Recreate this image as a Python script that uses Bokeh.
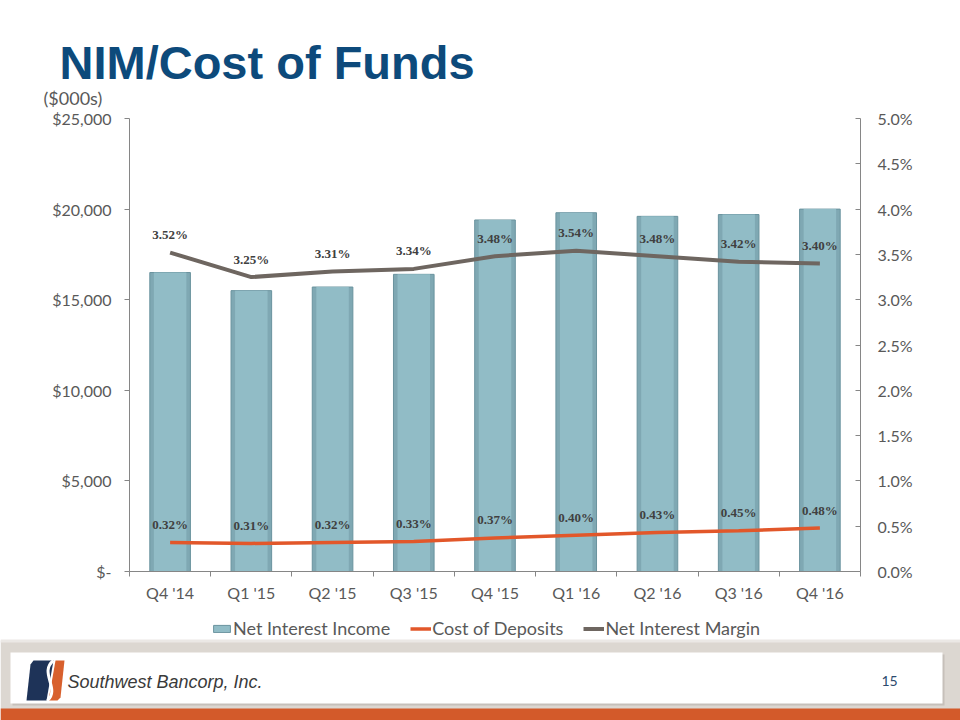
from bokeh.plotting import figure
from bokeh.models import (Range1d, LinearAxis, FixedTicker, Label, Legend, LegendItem,
                          ColumnDataSource, LabelSet, PrintfTickFormatter, NumeralTickFormatter)
from bokeh.layouts import column
from bokeh.embed import file_html
from bokeh.resources import INLINE

# ---------------- data ----------------
quarters = ["Q4 '14", "Q1 '15", "Q2 '15", "Q3 '15", "Q4 '15", "Q1 '16", "Q2 '16", "Q3 '16", "Q4 '16"]
net_interest_income = [16500, 15500, 15700, 16400, 19400, 19800, 19600, 19700, 20000]   # $000s
cost_of_deposits = [0.32, 0.31, 0.32, 0.33, 0.37, 0.40, 0.43, 0.45, 0.48]              # %
net_interest_margin = [3.52, 3.25, 3.31, 3.34, 3.48, 3.54, 3.48, 3.42, 3.40]           # %
left_ticks = [0, 5000, 10000, 15000, 20000, 25000]
right_ticks = [0.0, 0.5, 1.0, 1.5, 2.0, 2.5, 3.0, 3.5, 4.0, 4.5, 5.0]
series_names = ["Net Interest Income", "Cost of Deposits", "Net Interest Margin"]

FONT = "Lato"
AXIS_GRAY = "#868686"
TEXT_GRAY = "#595959"
LABEL_DARK = "#404040"
TITLE_BLUE = "#0d4a7b"
BAR_EDGE, BAR_FILL, BAR_FACE = "#6a939e", "#7fa8b3", "#91bcc6"
COD_COLOR, NIM_COLOR = "#e2572a", "#6e6660"
NAN = float("nan")

W = 960

def strip(height, y_top, y_bottom):
    s = figure(width=W, height=height, x_range=Range1d(0, W), y_range=Range1d(y_bottom, y_top),
               x_axis_location=None, y_axis_location=None, min_border=0, frame_align=False,
               outline_line_color=None, toolbar_location=None, output_backend="svg")
    s.grid.visible = False
    return s

# ---------------- title strip (page y 0..108) ----------------
t = strip(108, 0, 108)
t.add_layout(Label(x=59, y=62, text="NIM/Cost of Funds", text_font="Liberation Sans",
                   text_font_style="bold", text_font_size="47px", text_color=TITLE_BLUE,
                   text_baseline="middle"))
t.add_layout(Label(x=43, y=97, text="($000s)", text_font=FONT, text_font_size="18px",
                   text_color=TEXT_GRAY, text_baseline="middle"))

# ---------------- main chart (page y 108..612) ----------------
n = len(quarters)
pos = [i + 0.5 for i in range(n)]          # category centres on a 0..n index scale
p = figure(width=W, height=504, x_range=Range1d(0, n), y_range=Range1d(0, 25000),
           x_axis_location=None, y_axis_location=None, frame_align=False,
           min_border_left=129, min_border_right=100, min_border_top=10, min_border_bottom=41,
           outline_line_color=None, toolbar_location=None, output_backend="svg")
p.grid.visible = False
p.extra_y_ranges = {"pct": Range1d(0, 5)}

src = ColumnDataSource(dict(
    x=pos, nii=net_interest_income, cod=cost_of_deposits, nim=net_interest_margin,
    cod_txt=[f"{v:.2f}%" for v in cost_of_deposits],
    nim_txt=[f"{v:.2f}%" for v in net_interest_margin],
))

p.vbar(x="x", top="nii", width=0.5, source=src, fill_color=BAR_FILL,
       line_color=BAR_EDGE, line_width=1)
p.vbar(x="x", top="nii", width=0.40, source=src, fill_color=BAR_FACE, line_color=None)

p.line(x="x", y="cod", source=src, y_range_name="pct", line_color=COD_COLOR, line_width=3.5)
p.line(x="x", y="nim", source=src, y_range_name="pct", line_color=NIM_COLOR, line_width=4)

for col, txt in (("cod", "cod_txt"), ("nim", "nim_txt")):
    p.add_layout(LabelSet(x="x", y=col, text=txt, source=src, y_range_name="pct",
                          y_offset=18, text_align="center", text_baseline="middle",
                          text_font="Liberation Sans", text_font_style="bold",
                          text_font_size="13px", text_color=LABEL_DARK))

# left axis
ly = LinearAxis(ticker=FixedTicker(ticks=left_ticks, minor_ticks=[]),
                formatter=NumeralTickFormatter(format="$0,0"),
                major_label_overrides={0: "$-"})
ly.major_tick_out = 5
ly.major_tick_in = 0
ly.major_label_standoff = 13
p.add_layout(ly, "left")

# right axis
ry = LinearAxis(y_range_name="pct", ticker=FixedTicker(ticks=right_ticks, minor_ticks=[]),
                formatter=PrintfTickFormatter(format="%.1f%%"))
ry.major_tick_out = 0
ry.major_tick_in = 5
ry.major_label_standoff = 17
p.add_layout(ry, "right")

# bottom axis: labels at category centres, ticks at category boundaries
bx = LinearAxis(ticker=FixedTicker(ticks=pos, minor_ticks=list(range(n + 1))),
                major_label_overrides={c: q for c, q in zip(pos, quarters)})
bx.major_tick_out = 0
bx.major_tick_in = 0
bx.minor_tick_out = 5
bx.minor_tick_in = 0
bx.major_label_standoff = 6
p.add_layout(bx, "below")

for ax in (ly, ry, bx):
    ax.axis_line_color = AXIS_GRAY
    ax.major_tick_line_color = AXIS_GRAY
    ax.minor_tick_line_color = AXIS_GRAY
    ax.major_label_text_font = FONT
    ax.major_label_text_font_size = "16px"
    ax.major_label_text_color = TEXT_GRAY

# ---------------- legend + footer strip (page y 612..720) ----------------
f = strip(108, 612, 720)
# legend keys carrying the three series' styles (NaN data: nothing drawn in the strip)
k_bar = f.vbar(x=[NAN], top=[NAN], width=1, fill_color=BAR_FACE, line_color=BAR_EDGE)
k_cod = f.line(x=[NAN, NAN], y=[NAN, NAN], line_color=COD_COLOR, line_width=3.5)
k_nim = f.line(x=[NAN, NAN], y=[NAN, NAN], line_color=NIM_COLOR, line_width=4)
legend = Legend(items=[LegendItem(label=nm, renderers=[r], index=0)
                       for nm, r in zip(series_names, [k_bar, k_cod, k_nim])],
                orientation="horizontal", location=(211, 81), border_line_color=None,
                background_fill_alpha=0, label_text_font=FONT, label_text_font_size="18px",
                label_text_color=TEXT_GRAY, glyph_width=21, glyph_height=9, spacing=20,
                label_standoff=1, margin=0, padding=0)
f.add_layout(legend, "center")

f.quad(left=[0], right=[W], top=[640], bottom=[720], fill_color="#dcd7d1", line_color=None)
f.quad(left=[0], right=[W], top=[639], bottom=[642], fill_color="#ebe8e5", line_color=None)
f.quad(left=[12], right=[944], top=[654], bottom=[705], fill_color="#c6c0ba", line_color=None)
f.quad(left=[10], right=[942], top=[652], bottom=[703], fill_color="white", line_color=None)
f.quad(left=[0], right=[W], top=[708], bottom=[720], fill_color="#d35a2a", line_color=None)
# logo
f.patch(x=[26, 30, 33, 53, 46], y=[700, 664, 660, 660, 700], fill_color="#1e3358", line_color=None)
f.patch(x=[48, 55, 64, 60, 57], y=[700, 660, 660, 697, 700], fill_color="#d8602d", line_color=None)
f.bezier(x0=[53], y0=[660], x1=[47], y1=[700], cx0=[38], cy0=[672], cx1=[60], cy1=[688],
         line_color="white", line_width=3)
f.add_layout(Label(x=67, y=681, text="Southwest Bancorp, Inc.", text_font="Liberation Sans",
                   text_font_style="italic", text_font_size="18px", text_color="#3a3a3a",
                   text_baseline="middle"))
f.add_layout(Label(x=881, y=680, text="15", text_font=FONT, text_font_size="14px",
                   text_color="#2d4a6e", text_baseline="middle"))

layout = column(t, p, f, spacing=0)
open("out.html", "w").write(file_html(layout, INLINE))
